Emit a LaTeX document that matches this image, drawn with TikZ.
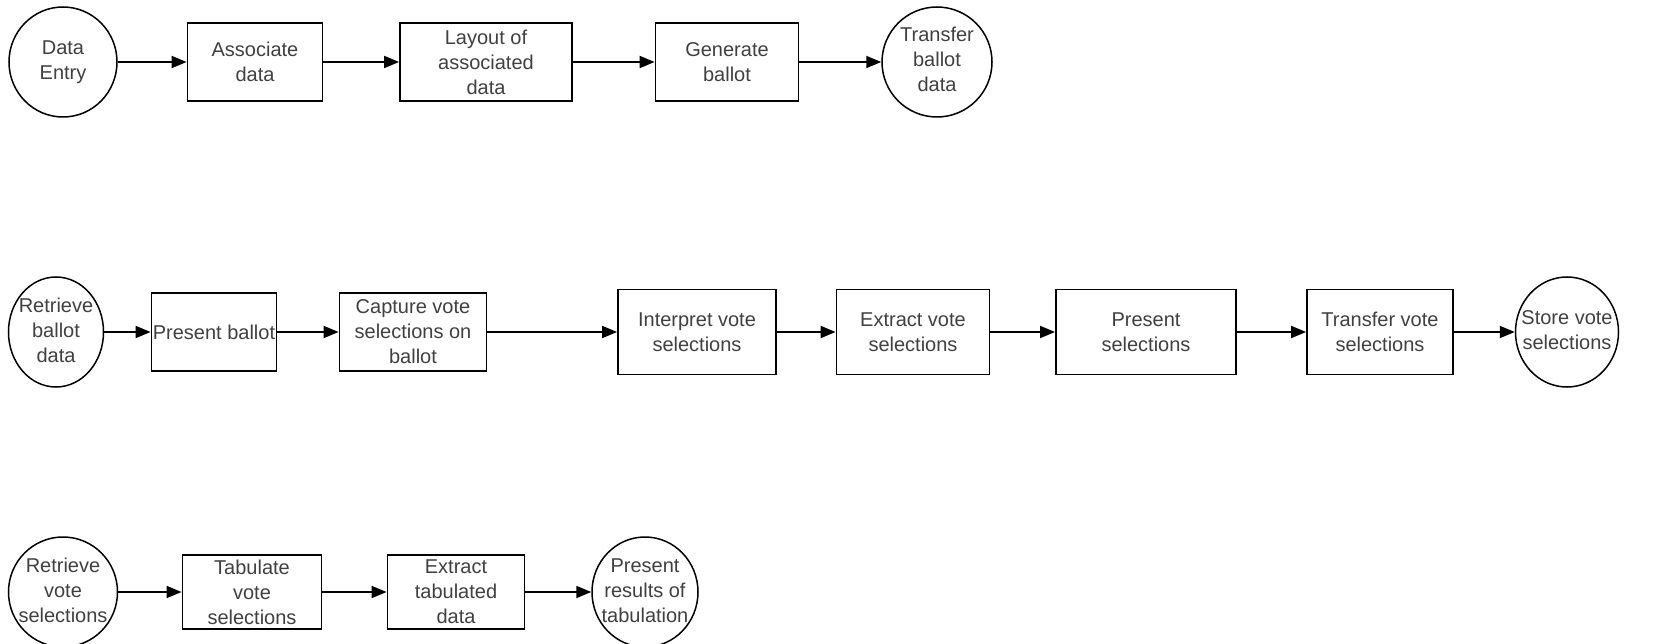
\documentclass[tikz,border=0pt]{standalone}
\usepackage{fontspec}
\setmainfont{Liberation Sans}
\usetikzlibrary{shapes.geometric,arrows.meta}
% text that does not widen the ellipse round it
\newcommand{\ovaltext}[1]{\makebox[0pt]{\begin{tabular}{@{}c@{}}#1\end{tabular}}}
\begin{document}
\begin{tikzpicture}[x=1pt,y=-1pt,
    every node/.style={font=\fontsize{20}{25}\selectfont,text=black!75,align=center,inner sep=0pt},
    proc/.style={draw=black,line width=1.8pt,rectangle,minimum height=78pt},
    term/.style={draw=black,line width=1.5pt,ellipse,minimum width=108pt,minimum height=110pt},
    flow/.style={-{Triangle[length=15pt,width=12pt]},line width=1.8pt}]
  \useasboundingbox (0,0) rectangle (1654,644);
  % first row
  \node[term] (entry) at (63,62) {\ovaltext{Data\\Entry}};
  \node[proc,minimum width=135pt] (assoc) at (255,62) {Associate\\data};
  \node[proc,minimum width=172pt] (layout) at (486,62) {Layout of\\associated\\data};
  \node[proc,minimum width=143pt] (gen) at (727,62) {Generate\\ballot};
  \node[term,minimum width=110pt] (sendballot) at (937,62) {\ovaltext{Transfer\\ballot\\data}};
  \draw[flow] (entry) -- (assoc);
  \draw[flow] (assoc) -- (layout);
  \draw[flow] (layout) -- (gen);
  \draw[flow] (gen) -- (sendballot);
  % second row
  \node[term,minimum width=95pt] (getballot) at (56,332) {\ovaltext{Retrieve\\ballot\\data}};
  \node[proc,minimum width=125pt] (showballot) at (214,332) {Present ballot};
  \node[proc,minimum width=147pt] (capture) at (413,332) {Capture vote\\selections on\\ballot};
  \node[proc,minimum width=158pt,minimum height=85pt] (interp) at (697,332) {Interpret vote\\selections};
  \node[proc,minimum width=153pt,minimum height=85pt] (extract) at (913,332) {Extract vote\\selections};
  \node[proc,minimum width=180pt,minimum height=85pt] (showsel) at (1146,332) {Present\\selections};
  \node[proc,minimum width=146pt,minimum height=85pt] (sendvote) at (1380,332) {Transfer vote\\selections};
  \node[term,minimum width=103pt] (store) at (1567,332) {\ovaltext{Store vote\\selections}};
  \draw[flow] (getballot) -- (showballot);
  \draw[flow] (showballot) -- (capture);
  \draw[flow] (capture) -- (interp);
  \draw[flow] (interp) -- (extract);
  \draw[flow] (extract) -- (showsel);
  \draw[flow] (showsel) -- (sendvote);
  \draw[flow] (sendvote) -- (store);
  % third row
  \node[term,minimum width=109pt] (getvote) at (63,592) {\ovaltext{Retrieve\\vote\\selections}};
  \node[proc,minimum width=139pt,minimum height=74pt] (tab) at (252,592) {Tabulate\\vote\\selections};
  \node[proc,minimum width=137pt,minimum height=74pt] (exttab) at (456,592) {Extract\\tabulated\\data};
  \node[term,minimum width=106pt] (results) at (645,592) {\ovaltext{Present\\results of\\tabulation}};
  \draw[flow] (getvote) -- (tab);
  \draw[flow] (tab) -- (exttab);
  \draw[flow] (exttab) -- (results);
\end{tikzpicture}
\end{document}
